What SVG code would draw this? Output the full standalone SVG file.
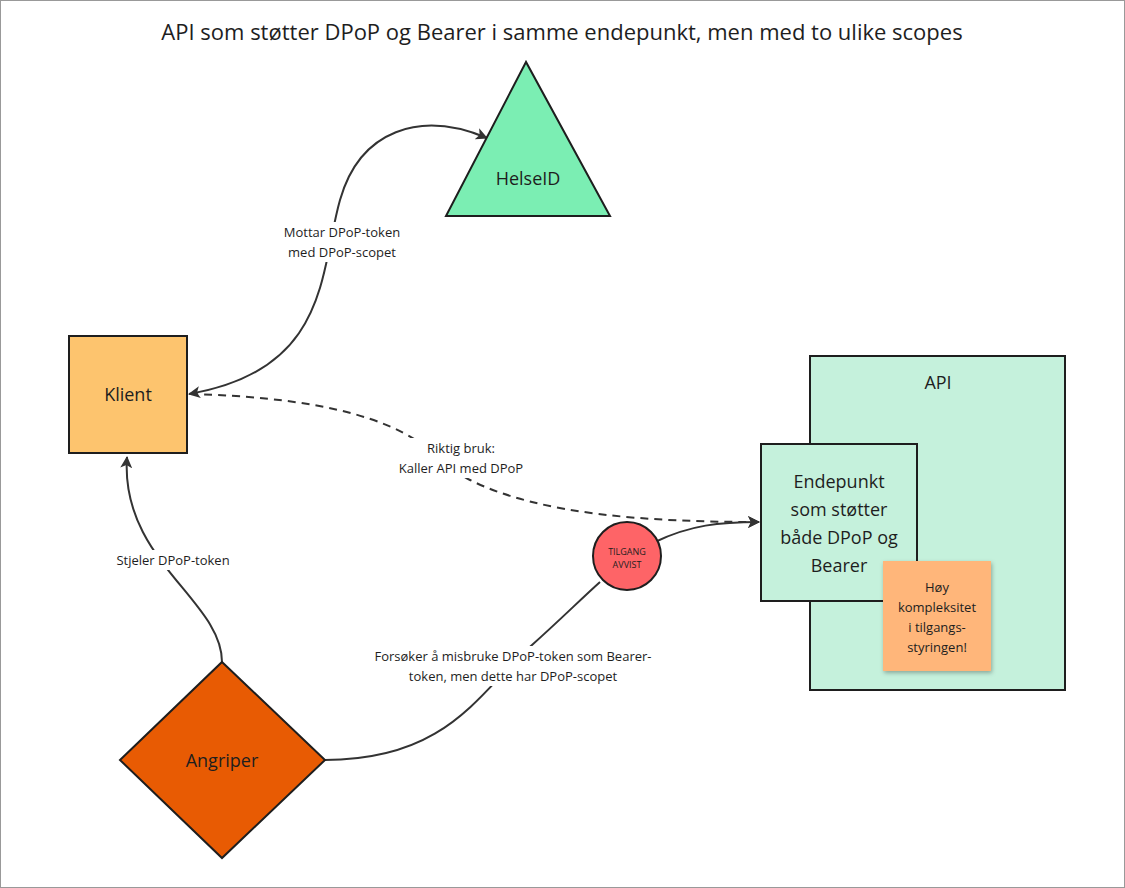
<svg xmlns="http://www.w3.org/2000/svg" width="1125" height="888" viewBox="0 0 1125 888">
<defs>
<marker id="ah" viewBox="0 0 12 12" refX="11" refY="6" markerWidth="12" markerHeight="12" markerUnits="userSpaceOnUse" orient="auto-start-reverse"><path d="M0,0 L12,6 L0,12 L3,6 Z" fill="#333"/></marker>
<filter id="sh" x="-20%" y="-20%" width="140%" height="140%"><feDropShadow dx="1" dy="2" stdDeviation="2" flood-opacity="0.3"/></filter>
</defs>
<style>
text{font-family:"Open Sans","Noto Sans",sans-serif;fill:#1e1e1e;text-anchor:middle}
.n{stroke:#1e1e1e;stroke-width:2}
.c{fill:none;stroke:#333;stroke-width:2}
.l{font-size:13px}
.lb{fill:#fff}
</style>
<rect x="0.5" y="0.5" width="1124" height="887" fill="#fff" stroke="#999"/>
<text x="562" y="40" font-size="22">API som støtter DPoP og Bearer i samme endepunkt, men med to ulike scopes</text>
<g id="connectors">
<path class="c" d="M189,394 C330,370 320,270 340,200 C360,130 420,110 487,138" marker-start="url(#ah)" marker-end="url(#ah)"/>
<path class="c" stroke-dasharray="8 6" d="M190,394 C420,400 430,460 470,480 C540,515 650,522 759,522" marker-end="url(#ah)"/>
<path class="c" d="M222,662 C222,600 120,560 127,457" marker-end="url(#ah)"/>
<path class="c" d="M325,760 C450,760 480,690 532,645 C560,620 580,600 600,582"/>
<path class="c" d="M655,542 C690,525 720,522 759,522" marker-end="url(#ah)"/>
<rect class="lb" x="276" y="222" width="132" height="40"/>
<text class="l" x="342" y="237">Mottar DPoP-token</text>
<text class="l" x="342" y="257">med DPoP-scopet</text>
<rect class="lb" x="385" y="438" width="152" height="40"/>
<text class="l" x="461" y="453">Riktig bruk:</text>
<text class="l" x="461" y="473">Kaller API med DPoP</text>
<rect class="lb" x="108" y="550" width="130" height="20"/>
<text class="l" x="173" y="565">Stjeler DPoP-token</text>
<rect class="lb" x="362" y="646" width="302" height="40"/>
<text class="l" x="513" y="661">Forsøker å misbruke DPoP-token som Bearer-</text>
<text class="l" x="513" y="681">token, men dette har DPoP-scopet</text>
</g>
<g id="helseid"><polygon class="n" points="526,62 446,216 610,216" fill="#7beeb3"/><text x="528" y="185" font-size="18">HelseID</text></g>
<g id="klient"><rect class="n" x="69" y="336" width="118" height="117" fill="#fdc46e"/><text x="128" y="401" font-size="18">Klient</text></g>
<g id="api"><rect class="n" x="810" y="356" width="255" height="334" fill="#c5f1dc"/><text x="938" y="389" font-size="18">API</text></g>
<g id="endepunkt"><rect class="n" x="761" y="444" width="156" height="157" fill="#c5f1dc"/>
<text font-size="18" x="839"><tspan x="839" y="488">Endepunkt</tspan><tspan x="839" y="516">som støtter</tspan><tspan x="839" y="544">både DPoP og</tspan><tspan x="839" y="572">Bearer</tspan></text></g>
<g id="note"><rect x="883" y="561" width="108" height="110" fill="#ffb67a" filter="url(#sh)"/>
<text font-size="13"><tspan x="937" y="592">Høy</tspan><tspan x="937" y="612">kompleksitet</tspan><tspan x="937" y="632">i tilgangs-</tspan><tspan x="937" y="652">styringen!</tspan></text></g>
<g id="angriper"><polygon class="n" points="222,662 325,760 222,858 120,760" fill="#e85b03"/><text x="222" y="767" font-size="18">Angriper</text></g>
<g id="avvist"><circle class="n" cx="627" cy="556" r="34" fill="#fe6467"/><text font-size="9"><tspan x="627" y="555">TILGANG</tspan><tspan x="627" y="568">AVVIST</tspan></text></g>
</svg>
